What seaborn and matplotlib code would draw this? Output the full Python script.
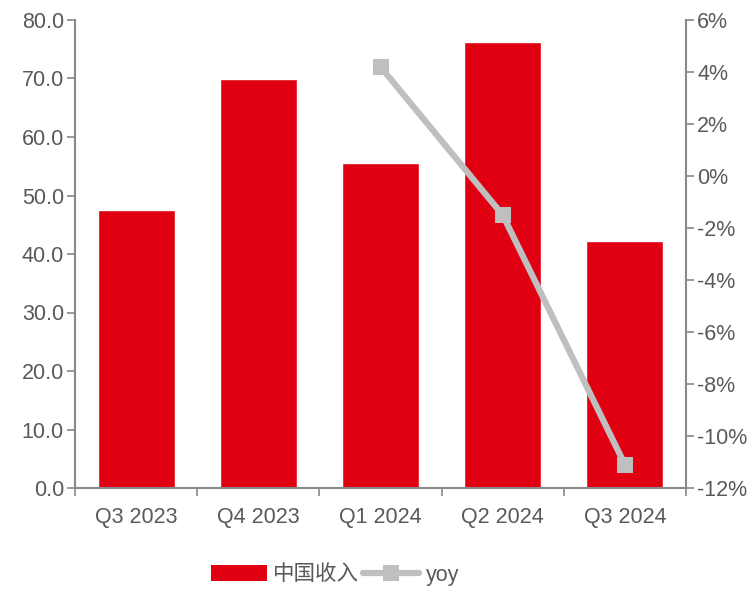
import matplotlib
matplotlib.use("Agg")
import matplotlib.pyplot as plt
import seaborn as sns
import pandas as pd
from matplotlib.patches import Patch
from matplotlib.lines import Line2D
from matplotlib.ticker import FuncFormatter, FixedLocator

quarters = ["Q3 2023", "Q4 2023", "Q1 2024", "Q2 2024", "Q3 2024"]
china_revenue = [47.5, 69.9, 55.6, 76.2, 42.2]
yoy_quarters = ["Q1 2024", "Q2 2024", "Q3 2024"]
yoy_pct = [4.2, -1.5, -11.1]

sns.set_theme(style="white")
plt.rcParams["font.family"] = ["Liberation Sans", "Noto Sans CJK SC", "DejaVu Sans"]

RED = "#E00012"
GRAY_LINE = "#BFBFBF"
SPINE = "#898989"
TEXT = "#595959"
FS = 15.5

fig = plt.figure(figsize=(7.53, 5.90), dpi=100)
ax = fig.add_axes([75 / 753, 1 - 488 / 590, (686 - 75) / 753, (488 - 20) / 590])

bars = pd.DataFrame({"quarter": quarters, "value": china_revenue})
sns.barplot(data=bars, x="quarter", y="value", color=RED, saturation=1,
            width=0.63, ax=ax)
ax.set_xlim(-0.5, len(quarters) - 0.5)
ax.set_ylim(0, 80)
ax.set_yticks(range(0, 81, 10))
ax.yaxis.set_major_formatter(FuncFormatter(lambda v, p: f"{v:.1f}"))
ax.set_xlabel("")
ax.set_ylabel("")

ax2 = ax.twinx()
pos = {q: i for i, q in enumerate(quarters)}
line = pd.DataFrame({"x": [pos[q] for q in yoy_quarters], "y": yoy_pct})
sns.lineplot(data=line, x="x", y="y", ax=ax2, color=GRAY_LINE, linewidth=4.5,
             marker="s", markersize=12, markeredgewidth=0, markerfacecolor=GRAY_LINE)
ax2.set_ylim(-12, 6)
ax2.set_yticks(range(-12, 7, 2))
ax2.yaxis.set_major_formatter(FuncFormatter(lambda v, p: f"{v:.0f}%"))
ax2.set_xlim(-0.5, len(quarters) - 0.5)
ax2.set_xlabel("")
ax2.set_ylabel("")

for a in (ax, ax2):
    for s in a.spines.values():
        s.set_visible(False)
    a.grid(False)

ax.spines["left"].set_visible(True)
ax.spines["bottom"].set_visible(True)
ax2.spines["right"].set_visible(True)
for s in (ax.spines["left"], ax.spines["bottom"], ax2.spines["right"]):
    s.set_color(SPINE)
    s.set_linewidth(1.5)

ax.tick_params(axis="y", which="major", direction="out", length=6, width=1.2,
               color=SPINE, labelcolor=TEXT, labelsize=FS, left=True, pad=2)
ax2.tick_params(axis="y", which="major", direction="out", length=6, width=1.2,
                color=SPINE, labelcolor=TEXT, labelsize=FS, right=True, pad=2)
# category ticks sit on the boundaries between bars
ax.xaxis.set_major_locator(FixedLocator(range(len(quarters))))
ax.set_xticks([i + 0.5 for i in range(-1, len(quarters))], minor=True)
ax.tick_params(axis="x", which="major", length=0, labelcolor=TEXT, labelsize=FS, pad=14)
ax.tick_params(axis="x", which="minor", direction="out", length=6, width=1.2,
               color=SPINE, bottom=True)

handles = [Patch(facecolor=RED, edgecolor="none"),
           Line2D([], [], color=GRAY_LINE, linewidth=4.5, marker="s",
                  markersize=12, markeredgewidth=0)]
fig.legend(handles, ["中国收入", "yoy"], loc="center", bbox_to_anchor=(335 / 753, 1 - 575 / 590),
           ncol=2, frameon=False, fontsize=FS, labelcolor=TEXT, handlelength=2.6,
           handleheight=0.8, columnspacing=0.2, handletextpad=0.3)

fig.savefig("out.png", dpi=100)
